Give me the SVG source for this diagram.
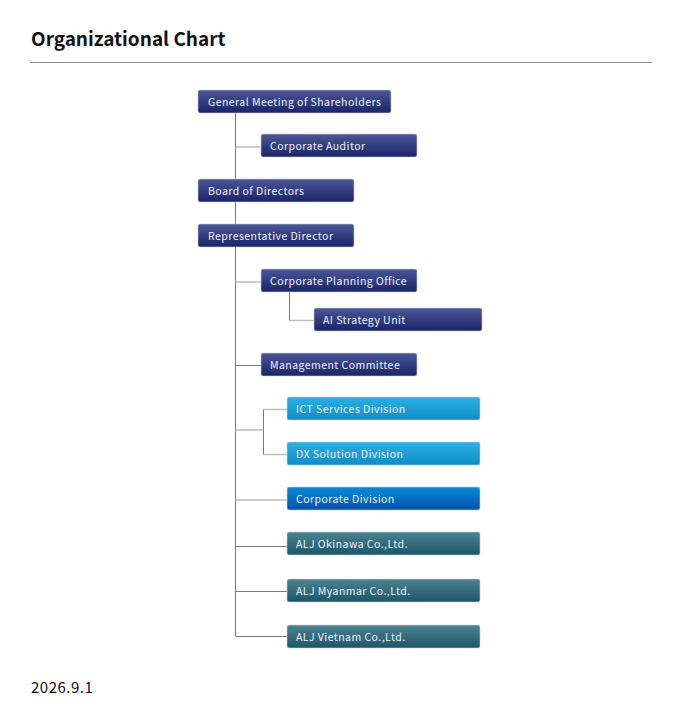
<svg xmlns="http://www.w3.org/2000/svg" width="678" height="714" viewBox="0 0 678 714">
<defs>
<linearGradient id="gNavy" x1="0" y1="0" x2="0" y2="1"><stop offset="0" stop-color="#4b5796"/><stop offset="1" stop-color="#1a2468"/></linearGradient>
<linearGradient id="gSky" x1="0" y1="0" x2="0" y2="1"><stop offset="0" stop-color="#2cb0e6"/><stop offset="1" stop-color="#0f8cc6"/></linearGradient>
<linearGradient id="gBlue" x1="0" y1="0" x2="0" y2="1"><stop offset="0" stop-color="#0a8ad6"/><stop offset="1" stop-color="#0251ae"/></linearGradient>
<linearGradient id="gTeal" x1="0" y1="0" x2="0" y2="1"><stop offset="0" stop-color="#4d8391"/><stop offset="1" stop-color="#1c5668"/></linearGradient>
</defs>
<style>
.box{stroke:#c9d2e0;stroke-width:0.6}
.navy{fill:url(#gNavy)}
.sky{fill:url(#gSky)}
.blue{fill:url(#gBlue)}
.teal{fill:url(#gTeal)}
.lbl{font-family:"Noto Sans CJK JP","Noto Sans",sans-serif;font-size:10.5px;fill:#eef0f6;letter-spacing:0.45px}
.dk{stroke:#7a7a7a;stroke-width:1;fill:none}
.lt{stroke:#bdbdbd;stroke-width:1.5;fill:none}
.title{font-family:"Noto Sans CJK JP","Noto Sans",sans-serif;font-size:19px;font-weight:bold;fill:#111}
.date{font-family:"Noto Sans CJK JP","Noto Sans",sans-serif;font-size:15px;fill:#111;letter-spacing:0.5px}
</style>
<rect width="678" height="714" fill="#ffffff"/>
<text class="title" x="31" y="46">Organizational Chart</text>
<line x1="30" y1="62.5" x2="652" y2="62.5" stroke="#888" stroke-width="1"/>
<g id="connectors">
<line class="dk" x1="235.5" y1="113" x2="235.5" y2="636.5"/>
<line class="lt" x1="235.5" y1="147" x2="261" y2="147"/>
<line class="lt" x1="235.5" y1="282" x2="261" y2="282"/>
<polyline class="dk" points="289.5,292 289.5,320.5 314,320.5"/>
<line class="lt" x1="289.5" y1="320.5" x2="314" y2="320.5"/>
<line class="dk" x1="235.5" y1="365.5" x2="261" y2="365.5"/>
<line class="lt" x1="235.5" y1="430" x2="263" y2="430"/>
<polyline class="dk" points="287,409.5 263.5,409.5 263.5,454.5 287,454.5"/>
<line class="lt" x1="263.5" y1="409.5" x2="287" y2="409.5"/>
<line class="lt" x1="263.5" y1="454.5" x2="287" y2="454.5"/>
<line class="lt" x1="235.5" y1="500" x2="287" y2="500"/>
<line class="dk" x1="235.5" y1="546.5" x2="287" y2="546.5"/>
<line class="dk" x1="235.5" y1="591.5" x2="287" y2="591.5"/>
<line class="dk" x1="235.5" y1="636.5" x2="287" y2="636.5"/>
</g>
<g id="n-gms"><rect class="box navy" x="198" y="90" width="193" height="23" rx="2"/><text class="lbl" x="208" y="106">General Meeting of Shareholders</text></g>
<g id="n-auditor"><rect class="box navy" x="261" y="134" width="156" height="23" rx="2"/><text class="lbl" x="270" y="150">Corporate Auditor</text></g>
<g id="n-board"><rect class="box navy" x="198" y="179" width="156" height="23" rx="2"/><text class="lbl" x="208" y="195">Board of Directors</text></g>
<g id="n-rep"><rect class="box navy" x="198" y="224" width="156" height="23" rx="2"/><text class="lbl" x="208" y="240">Representative Director</text></g>
<g id="n-cpo"><rect class="box navy" x="261" y="269" width="156" height="23" rx="2"/><text class="lbl" x="270" y="285">Corporate Planning Office</text></g>
<g id="n-ai"><rect class="box navy" x="314" y="308" width="168" height="23" rx="2"/><text class="lbl" x="323" y="324">AI Strategy Unit</text></g>
<g id="n-mc"><rect class="box navy" x="261" y="353" width="156" height="23" rx="2"/><text class="lbl" x="270" y="369">Management Committee</text></g>
<g id="n-ict"><rect class="box sky" x="287" y="397" width="193" height="23" rx="2"/><text class="lbl" x="296" y="413">ICT Services Division</text></g>
<g id="n-dx"><rect class="box sky" x="287" y="442" width="193" height="23" rx="2"/><text class="lbl" x="296" y="458">DX Solution Division</text></g>
<g id="n-corp"><rect class="box blue" x="287" y="487" width="193" height="23" rx="2"/><text class="lbl" x="296" y="503">Corporate Division</text></g>
<g id="n-okinawa"><rect class="box teal" x="287" y="532" width="193" height="23" rx="2"/><text class="lbl" x="296" y="548">ALJ Okinawa Co.,Ltd.</text></g>
<g id="n-myanmar"><rect class="box teal" x="287" y="579" width="193" height="23" rx="2"/><text class="lbl" x="296" y="595">ALJ Myanmar Co.,Ltd.</text></g>
<g id="n-vietnam"><rect class="box teal" x="287" y="625" width="193" height="23" rx="2"/><text class="lbl" x="296" y="641">ALJ Vietnam Co.,Ltd.</text></g>
<text class="date" x="31" y="693">2026.9.1</text>
</svg>
